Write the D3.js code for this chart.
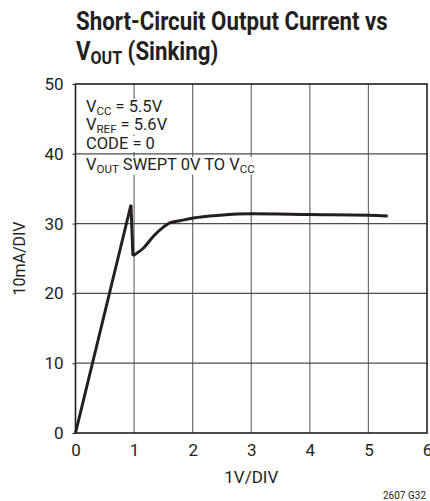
<!DOCTYPE html>
<html><head><meta charset="utf-8">
<script src="https://cdn.jsdelivr.net/npm/d3@7"></script>
<style>body{margin:0;background:#fff}svg{display:block}</style>
</head><body>
<script>
const xTicks = [0,1,2,3,4,5,6];
const yTicks = [0,10,20,30,40,50];
const vout = [0, 0.947, 0.98, 1.16, 1.33, 1.50, 1.61, 1.78, 2.01, 2.47, 3.0, 4.0, 5.0, 5.33];
const current = [0, 32.7, 25.4, 26.5, 28.2, 29.5, 30.1, 30.4, 30.8, 31.2, 31.4, 31.3, 31.2, 31.1];
const FONT = "'Roboto','Liberation Sans',sans-serif";
const INK = "#231f20";

const W = 430, H = 501;
const svg = d3.select("body").append("svg").attr("width", W).attr("height", H)
  .style("font-family", FONT);
const m = {l:75.5, r:427, t:84, b:433};
const x = d3.scaleLinear().domain([0,6]).range([m.l, m.r]);
const y = d3.scaleLinear().domain([0,50]).range([m.b, m.t]);

// title (condensed by horizontal scaling)
const tg = svg.append("g");
const tInner = tg.append("g");
const t1 = tInner.append("text").attr("x", 0).attr("y", 30).attr("font-weight", "bold").attr("font-size", 25).attr("fill", INK)
  .text("Short-Circuit Output Current vs");
const t = tInner.append("text").attr("x", 0).attr("y", 60).attr("font-weight", "bold").attr("font-size", 25).attr("fill", INK);
t.append("tspan").text("V");
t.append("tspan").attr("font-size", 18).attr("dy", 4).text("OUT");
t.append("tspan").attr("dy", -4).text(" (Sinking)");
const w1 = t1.node().getBBox().width;
const sx = 312 / w1;
tg.attr("transform", `translate(76,0)`);
tInner.attr("transform", `scale(${sx},1)`);

// grid
const g = svg.append("g");
g.selectAll(".vg").data(xTicks.slice(1,-1)).join("line")
  .attr("x1", d=>x(d)).attr("x2", d=>x(d)).attr("y1", m.t).attr("y2", m.b)
  .attr("stroke", "#6d6e71").attr("stroke-width", 1.2);
g.selectAll(".hg").data(yTicks.slice(1,-1)).join("line")
  .attr("y1", d=>y(d)).attr("y2", d=>y(d)).attr("x1", m.l).attr("x2", m.r)
  .attr("stroke", "#4d4d4f").attr("stroke-width", 1.2);

// axes with ticks
const yAxis = d3.axisLeft(y).tickValues(yTicks).tickFormat(d3.format("d")).tickSize(3).tickPadding(9);
const ya = svg.append("g").attr("transform", `translate(${m.l},0)`).call(yAxis);
ya.select(".domain").remove();
ya.selectAll("text").attr("font-size", 17).attr("fill", INK).style("font-family", FONT);
ya.selectAll("line").attr("stroke", INK);

const xAxis = d3.axisBottom(x).tickValues(xTicks).tickFormat(d3.format("d")).tickSize(0).tickPadding(11);
const xa = svg.append("g").attr("transform", `translate(0,${m.b})`).call(xAxis);
xa.select(".domain").remove();
xa.selectAll("text").attr("font-size", 17).attr("fill", INK).style("font-family", FONT);

// annotation lines with white backgrounds
const ann = svg.append("g");
const lines = [
  {y:112, parts:[["V",0],["CC",1],[" = 5.5V",0]]},
  {y:130, parts:[["V",0],["REF",1],[" = 5.6V",0]]},
  {y:149, parts:[["CODE = 0",0]]},
  {y:170, parts:[["V",0],["OUT",1],[" SWEPT 0V TO V",0],["CC",1]]}
];
lines.forEach(L => {
  const gg = ann.append("g");
  const rect = gg.append("rect").attr("fill", "#fff");
  const tx = gg.append("text").attr("x", 86).attr("y", L.y).attr("font-size", 16.5).attr("fill", INK);
  let prevSub = 0;
  L.parts.forEach(([s, sub]) => {
    const sp = tx.append("tspan").text(s);
    if (sub) sp.attr("font-size", 11.5);
    const dy = (sub ? 2.5 : 0) - (prevSub ? 2.5 : 0);
    if (dy) sp.attr("dy", dy);
    prevSub = sub;
  });
  const bb = tx.node().getBBox();
  rect.attr("x", bb.x - 2).attr("y", bb.y + 2).attr("width", bb.width + 4).attr("height", bb.height - 3);
});

// frame
svg.append("rect").attr("x", m.l).attr("y", m.t).attr("width", m.r - m.l).attr("height", m.b - m.t)
  .attr("fill", "none").attr("stroke", INK).attr("stroke-width", 1.6);

// curve
const data = vout.map((v,i)=>[v, current[i]]);
svg.append("path").datum(data.slice(0,3)).attr("d", d3.line().x(d=>x(d[0])).y(d=>y(d[1])))
  .attr("fill", "none").attr("stroke", INK).attr("stroke-width", 3).attr("stroke-linejoin", "miter");
svg.append("path").datum(data.slice(2)).attr("d", d3.line().x(d=>x(d[0])).y(d=>y(d[1])).curve(d3.curveMonotoneX))
  .attr("fill", "none").attr("stroke", INK).attr("stroke-width", 3).attr("stroke-linejoin", "round");

// axis titles
svg.append("text").attr("x", x(3)).attr("y", 483).attr("text-anchor", "middle")
  .attr("font-size", 17).attr("fill", INK).text("1V/DIV");
svg.append("text").attr("transform", `translate(25,${(m.t+m.b)/2}) rotate(-90)`).attr("text-anchor", "middle")
  .attr("font-size", 16).attr("fill", INK).text("10mA/DIV");
svg.append("text").attr("x", 426).attr("y", 499).attr("text-anchor", "end")
  .attr("font-size", 10).attr("fill", INK).text("2607 G32");
</script>
</body></html>
